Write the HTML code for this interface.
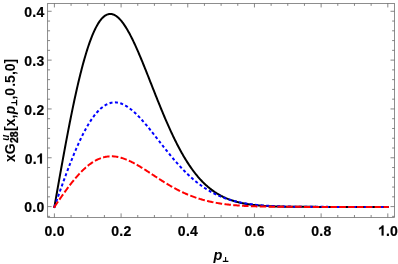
<!DOCTYPE html><html><head><meta charset="utf-8"><style>html,body{margin:0;padding:0;background:#fff}svg{display:block;will-change:transform}text{font-family:"Liberation Sans",sans-serif;font-weight:bold;fill:#000}</style></head><body>
<svg width="398" height="264" viewBox="0 0 398 264">
<rect width="398" height="264" fill="#fff"/>
<path d="M54.40,206.90 L55.07,203.10 L55.73,199.31 L56.40,195.52 L57.07,191.73 L57.73,187.95 L58.40,184.18 L59.07,180.42 L59.73,176.67 L60.40,172.93 L61.07,169.21 L61.73,165.50 L62.40,161.81 L63.07,158.14 L63.74,154.49 L64.40,150.86 L65.07,147.26 L65.74,143.68 L66.40,140.13 L67.07,136.60 L67.74,133.11 L68.40,129.64 L69.07,126.21 L69.74,122.81 L70.40,119.45 L71.07,116.13 L71.74,112.84 L72.40,109.59 L73.07,106.38 L73.74,103.21 L74.40,100.08 L75.07,97.00 L75.74,93.96 L76.40,90.97 L77.07,88.03 L77.74,85.13 L78.40,82.28 L79.07,79.48 L79.74,76.74 L80.41,74.04 L81.07,71.40 L81.74,68.81 L82.41,66.28 L83.07,63.80 L83.74,61.37 L84.41,59.01 L85.07,56.70 L85.74,54.44 L86.41,52.25 L87.07,50.11 L87.74,48.04 L88.41,46.02 L89.07,44.07 L89.74,42.17 L90.41,40.34 L91.07,38.56 L91.74,36.85 L92.41,35.20 L93.07,33.62 L93.74,32.09 L94.41,30.63 L95.07,29.23 L95.74,27.89 L96.41,26.61 L97.08,25.40 L97.74,24.25 L98.41,23.16 L99.08,22.14 L99.74,21.17 L100.41,20.27 L101.08,19.43 L101.74,18.65 L102.41,17.93 L103.08,17.28 L103.74,16.68 L104.41,16.14 L105.08,15.67 L105.74,15.25 L106.41,14.89 L107.08,14.59 L107.74,14.35 L108.41,14.17 L109.08,14.04 L109.74,13.97 L110.41,13.95 L111.08,13.99 L111.74,14.08 L112.41,14.23 L113.08,14.42 L113.75,14.68 L114.41,14.98 L115.08,15.33 L115.75,15.73 L116.41,16.18 L117.08,16.68 L117.75,17.23 L118.41,17.82 L119.08,18.46 L119.75,19.14 L120.41,19.87 L121.08,20.63 L121.75,21.44 L122.41,22.30 L123.08,23.19 L123.75,24.12 L124.41,25.09 L125.08,26.09 L125.75,27.13 L126.41,28.21 L127.08,29.32 L127.75,30.46 L128.41,31.64 L129.08,32.85 L129.75,34.08 L130.42,35.35 L131.08,36.64 L131.75,37.96 L132.42,39.31 L133.08,40.68 L133.75,42.08 L134.42,43.50 L135.08,44.94 L135.75,46.40 L136.42,47.88 L137.08,49.39 L137.75,50.91 L138.42,52.44 L139.08,54.00 L139.75,55.57 L140.42,57.15 L141.08,58.75 L141.75,60.35 L142.42,61.98 L143.08,63.61 L143.75,65.25 L144.42,66.90 L145.08,68.56 L145.75,70.22 L146.42,71.89 L147.09,73.57 L147.75,75.25 L148.42,76.94 L149.09,78.63 L149.75,80.32 L150.42,82.01 L151.09,83.71 L151.75,85.40 L152.42,87.09 L153.09,88.79 L153.75,90.48 L154.42,92.16 L155.09,93.85 L155.75,95.53 L156.42,97.20 L157.09,98.87 L157.75,100.54 L158.42,102.20 L159.09,103.85 L159.75,105.49 L160.42,107.13 L161.09,108.75 L161.75,110.37 L162.42,111.98 L163.09,113.58 L163.76,115.17 L164.42,116.75 L165.09,118.31 L165.76,119.87 L166.42,121.41 L167.09,122.94 L167.76,124.46 L168.42,125.96 L169.09,127.45 L169.76,128.93 L170.42,130.39 L171.09,131.84 L171.76,133.27 L172.42,134.69 L173.09,136.10 L173.76,137.49 L174.42,138.86 L175.09,140.22 L175.76,141.56 L176.42,142.89 L177.09,144.20 L177.76,145.49 L178.42,146.77 L179.09,148.03 L179.76,149.28 L180.43,150.50 L181.09,151.71 L181.76,152.91 L182.43,154.09 L183.09,155.25 L183.76,156.39 L184.43,157.52 L185.09,158.63 L185.76,159.72 L186.43,160.79 L187.09,161.85 L187.76,162.89 L188.43,163.92 L189.09,164.93 L189.76,165.92 L190.43,166.89 L191.09,167.85 L191.76,168.79 L192.43,169.72 L193.09,170.62 L193.76,171.52 L194.43,172.39 L195.09,173.25 L195.76,174.10 L196.43,174.92 L197.10,175.74 L197.76,176.53 L198.43,177.31 L199.10,178.08 L199.76,178.83 L200.43,179.56 L201.10,180.28 L201.76,180.99 L202.43,181.68 L203.10,182.36 L203.76,183.02 L204.43,183.67 L205.10,184.30 L205.76,184.92 L206.43,185.53 L207.10,186.12 L207.76,186.70 L208.43,187.27 L209.10,187.82 L209.76,188.37 L210.43,188.89 L211.10,189.41 L211.76,189.92 L212.43,190.41 L213.10,190.89 L213.77,191.36 L214.43,191.82 L215.10,192.26 L215.77,192.70 L216.43,193.13 L217.10,193.54 L217.77,193.95 L218.43,194.34 L219.10,194.72 L219.77,195.10 L220.43,195.46 L221.10,195.82 L221.77,196.16 L222.43,196.50 L223.10,196.83 L223.77,197.14 L224.43,197.46 L225.10,197.76 L225.77,198.05 L226.43,198.34 L227.10,198.61 L227.77,198.88 L228.43,199.15 L229.10,199.40 L229.77,199.65 L230.44,199.89 L231.10,200.12 L231.77,200.35 L232.44,200.57 L233.10,200.78 L233.77,200.99 L234.44,201.19 L235.10,201.39 L235.77,201.58 L236.44,201.76 L237.10,201.94 L237.77,202.11 L238.44,202.28 L239.10,202.44 L239.77,202.60 L240.44,202.75 L241.10,202.90 L241.77,203.04 L242.44,203.18 L243.10,203.31 L243.77,203.44 L244.44,203.57 L245.10,203.69 L245.77,203.81 L246.44,203.92 L247.11,204.03 L247.77,204.14 L248.44,204.24 L249.11,204.34 L249.77,204.44 L250.44,204.53 L251.11,204.62 L251.77,204.71 L252.44,204.79 L253.11,204.87 L253.77,204.95 L254.44,205.02 L255.11,205.10 L255.77,205.17 L256.44,205.23 L257.11,205.30 L257.77,205.36 L258.44,205.42 L259.11,205.48 L259.77,205.54 L260.44,205.59 L261.11,205.64 L261.77,205.69 L262.44,205.74 L263.11,205.79 L263.78,205.83 L264.44,205.88 L265.11,205.92 L265.78,205.96 L266.44,206.00 L267.11,206.04 L267.78,206.07 L268.44,206.11 L269.11,206.14 L269.78,206.17 L270.44,206.20 L271.11,206.23 L271.78,206.26 L272.44,206.29 L273.11,206.31 L273.78,206.34 L274.44,206.36 L275.11,206.39 L275.78,206.41 L276.44,206.43 L277.11,206.45 L277.78,206.47 L278.44,206.49 L279.11,206.51 L279.78,206.52 L280.45,206.54 L281.11,206.56 L281.78,206.57 L282.45,206.59 L283.11,206.60 L283.78,206.61 L284.45,206.63 L285.11,206.64 L285.78,206.65 L286.45,206.66 L287.11,206.67 L287.78,206.68 L288.45,206.69 L289.11,206.70 L289.78,206.71 L290.45,206.72 L291.11,206.73 L291.78,206.74 L292.45,206.74 L293.11,206.75 L293.78,206.76 L294.45,206.77 L295.11,206.77 L295.78,206.78 L296.45,206.78 L297.12,206.79 L297.78,206.79 L298.45,206.80 L299.12,206.80 L299.78,206.81 L300.45,206.81 L301.12,206.82 L301.78,206.82 L302.45,206.83 L303.12,206.83 L303.78,206.83 L304.45,206.84 L305.12,206.84 L305.78,206.84 L306.45,206.85 L307.12,206.85 L307.78,206.85 L308.45,206.85 L309.12,206.86 L309.78,206.86 L310.45,206.86 L311.12,206.86 L311.78,206.86 L312.45,206.87 L313.12,206.87 L313.79,206.87 L314.45,206.87 L315.12,206.87 L315.79,206.87 L316.45,206.88 L317.12,206.88 L317.79,206.88 L318.45,206.88 L319.12,206.88 L319.79,206.88 L320.45,206.88 L321.12,206.88 L321.79,206.88 L322.45,206.88 L323.12,206.89 L323.79,206.89 L324.45,206.89 L325.12,206.89 L325.79,206.89 L326.45,206.89 L327.12,206.89 L327.79,206.89 L328.45,206.89 L329.12,206.89 L329.79,206.89 L330.46,206.89 L331.12,206.89 L331.79,206.89 L332.46,206.89 L333.12,206.89 L333.79,206.89 L334.46,206.89 L335.12,206.89 L335.79,206.90 L336.46,206.90 L337.12,206.90 L337.79,206.90 L338.46,206.90 L339.12,206.90 L339.79,206.90 L340.46,206.90 L341.12,206.90 L341.79,206.90 L342.46,206.90 L343.12,206.90 L343.79,206.90 L344.46,206.90 L345.12,206.90 L345.79,206.90 L346.46,206.90 L347.13,206.90 L347.79,206.90 L348.46,206.90 L349.13,206.90 L349.79,206.90 L350.46,206.90 L351.13,206.90 L351.79,206.90 L352.46,206.90 L353.13,206.90 L353.79,206.90 L354.46,206.90 L355.13,206.90 L355.79,206.90 L356.46,206.90 L357.13,206.90 L357.79,206.90 L358.46,206.90 L359.13,206.90 L359.79,206.90 L360.46,206.90 L361.13,206.90 L361.79,206.90 L362.46,206.90 L363.13,206.90 L363.80,206.90 L364.46,206.90 L365.13,206.90 L365.80,206.90 L366.46,206.90 L367.13,206.90 L367.80,206.90 L368.46,206.90 L369.13,206.90 L369.80,206.90 L370.46,206.90 L371.13,206.90 L371.80,206.90 L372.46,206.90 L373.13,206.90 L373.80,206.90 L374.46,206.90 L375.13,206.90 L375.80,206.90 L376.46,206.90 L377.13,206.90 L377.80,206.90 L378.46,206.90 L379.13,206.90 L379.80,206.90 L380.47,206.90 L381.13,206.90 L381.80,206.90 L382.47,206.90 L383.13,206.90 L383.80,206.90 L384.47,206.90 L385.13,206.90 L385.80,206.90 L386.47,206.90 L387.13,206.90 L387.80,206.90 L388.80,206.90" fill="none" stroke="#000000" stroke-width="2.0" />
<path d="M54.23,207.88 L54.49,206.41" fill="none" stroke="#000000" stroke-width="2.0"/>
<path d="M54.40,206.90 L55.07,205.01 L55.73,203.11 L56.40,201.22 L57.07,199.33 L57.73,197.44 L58.40,195.56 L59.07,193.68 L59.73,191.80 L60.40,189.94 L61.07,188.07 L61.73,186.22 L62.40,184.37 L63.07,182.53 L63.74,180.69 L64.40,178.87 L65.07,177.06 L65.74,175.26 L66.40,173.46 L67.07,171.69 L67.74,169.92 L68.40,168.17 L69.07,166.43 L69.74,164.70 L70.40,162.99 L71.07,161.30 L71.74,159.62 L72.40,157.96 L73.07,156.31 L73.74,154.69 L74.40,153.08 L75.07,151.49 L75.74,149.92 L76.40,148.37 L77.07,146.84 L77.74,145.33 L78.40,143.84 L79.07,142.37 L79.74,140.93 L80.41,139.51 L81.07,138.11 L81.74,136.73 L82.41,135.38 L83.07,134.05 L83.74,132.75 L84.41,131.47 L85.07,130.22 L85.74,128.99 L86.41,127.79 L87.07,126.61 L87.74,125.46 L88.41,124.34 L89.07,123.24 L89.74,122.17 L90.41,121.13 L91.07,120.11 L91.74,119.12 L92.41,118.16 L93.07,117.23 L93.74,116.33 L94.41,115.45 L95.07,114.60 L95.74,113.78 L96.41,112.99 L97.08,112.23 L97.74,111.50 L98.41,110.79 L99.08,110.12 L99.74,109.47 L100.41,108.85 L101.08,108.26 L101.74,107.70 L102.41,107.17 L103.08,106.67 L103.74,106.19 L104.41,105.74 L105.08,105.33 L105.74,104.94 L106.41,104.57 L107.08,104.24 L107.74,103.93 L108.41,103.65 L109.08,103.40 L109.74,103.18 L110.41,102.98 L111.08,102.81 L111.74,102.67 L112.41,102.55 L113.08,102.46 L113.75,102.40 L114.41,102.36 L115.08,102.35 L115.75,102.39 L116.41,102.45 L117.08,102.53 L117.75,102.64 L118.41,102.78 L119.08,102.93 L119.75,103.12 L120.41,103.32 L121.08,103.55 L121.75,103.80 L122.41,104.07 L123.08,104.37 L123.75,104.68 L124.41,105.02 L125.08,105.38 L125.75,105.76 L126.41,106.15 L127.08,106.57 L127.75,107.01 L128.41,107.46 L129.08,107.93 L129.75,108.42 L130.42,108.93 L131.08,109.45 L131.75,110.00 L132.42,110.55 L133.08,111.13 L133.75,111.71 L134.42,112.32 L135.08,112.93 L135.75,113.56 L136.42,114.21 L137.08,114.86 L137.75,115.53 L138.42,116.21 L139.08,116.91 L139.75,117.61 L140.42,118.33 L141.08,119.05 L141.75,119.79 L142.42,120.53 L143.08,121.29 L143.75,122.05 L144.42,122.82 L145.08,123.60 L145.75,124.39 L146.42,125.18 L147.09,125.98 L147.75,126.79 L148.42,127.60 L149.09,128.42 L149.75,129.24 L150.42,130.07 L151.09,130.90 L151.75,131.73 L152.42,132.57 L153.09,133.41 L153.75,134.26 L154.42,135.10 L155.09,135.95 L155.75,136.80 L156.42,137.65 L157.09,138.51 L157.75,139.36 L158.42,140.21 L159.09,141.07 L159.75,141.92 L160.42,142.77 L161.09,143.63 L161.75,144.48 L162.42,145.33 L163.09,146.17 L163.76,147.02 L164.42,147.86 L165.09,148.70 L165.76,149.54 L166.42,150.37 L167.09,151.21 L167.76,152.03 L168.42,152.86 L169.09,153.68 L169.76,154.49 L170.42,155.30 L171.09,156.11 L171.76,156.91 L172.42,157.71 L173.09,158.50 L173.76,159.29 L174.42,160.07 L175.09,160.84 L175.76,161.61 L176.42,162.38 L177.09,163.13 L177.76,163.88 L178.42,164.63 L179.09,165.37 L179.76,166.10 L180.43,166.82 L181.09,167.54 L181.76,168.25 L182.43,168.95 L183.09,169.65 L183.76,170.34 L184.43,171.02 L185.09,171.69 L185.76,172.36 L186.43,173.02 L187.09,173.67 L187.76,174.31 L188.43,174.95 L189.09,175.58 L189.76,176.20 L190.43,176.81 L191.09,177.41 L191.76,178.01 L192.43,178.60 L193.09,179.18 L193.76,179.75 L194.43,180.32 L195.09,180.88 L195.76,181.42 L196.43,181.97 L197.10,182.50 L197.76,183.02 L198.43,183.54 L199.10,184.05 L199.76,184.55 L200.43,185.05 L201.10,185.53 L201.76,186.01 L202.43,186.48 L203.10,186.94 L203.76,187.40 L204.43,187.84 L205.10,188.28 L205.76,188.72 L206.43,189.14 L207.10,189.56 L207.76,189.97 L208.43,190.37 L209.10,190.76 L209.76,191.15 L210.43,191.53 L211.10,191.91 L211.76,192.27 L212.43,192.63 L213.10,192.99 L213.77,193.33 L214.43,193.67 L215.10,194.00 L215.77,194.33 L216.43,194.65 L217.10,194.96 L217.77,195.27 L218.43,195.57 L219.10,195.86 L219.77,196.15 L220.43,196.43 L221.10,196.71 L221.77,196.98 L222.43,197.24 L223.10,197.50 L223.77,197.75 L224.43,198.00 L225.10,198.24 L225.77,198.48 L226.43,198.71 L227.10,198.94 L227.77,199.16 L228.43,199.37 L229.10,199.58 L229.77,199.79 L230.44,199.99 L231.10,200.19 L231.77,200.38 L232.44,200.57 L233.10,200.75 L233.77,200.93 L234.44,201.10 L235.10,201.27 L235.77,201.43 L236.44,201.59 L237.10,201.75 L237.77,201.90 L238.44,202.05 L239.10,202.20 L239.77,202.34 L240.44,202.48 L241.10,202.61 L241.77,202.74 L242.44,202.87 L243.10,202.99 L243.77,203.12 L244.44,203.23 L245.10,203.35 L245.77,203.46 L246.44,203.57 L247.11,203.67 L247.77,203.77 L248.44,203.87 L249.11,203.97 L249.77,204.06 L250.44,204.16 L251.11,204.24 L251.77,204.33 L252.44,204.41 L253.11,204.50 L253.77,204.57 L254.44,204.65 L255.11,204.73 L255.77,204.80 L256.44,204.87 L257.11,204.94 L257.77,205.00 L258.44,205.07 L259.11,205.13 L259.77,205.19 L260.44,205.25 L261.11,205.30 L261.77,205.36 L262.44,205.41 L263.11,205.46 L263.78,205.51 L264.44,205.56 L265.11,205.61 L265.78,205.65 L266.44,205.70 L267.11,205.74 L267.78,205.78 L268.44,205.82 L269.11,205.86 L269.78,205.90 L270.44,205.93 L271.11,205.97 L271.78,206.00 L272.44,206.04 L273.11,206.07 L273.78,206.10 L274.44,206.13 L275.11,206.16 L275.78,206.18 L276.44,206.21 L277.11,206.24 L277.78,206.26 L278.44,206.29 L279.11,206.31 L279.78,206.33 L280.45,206.35 L281.11,206.37 L281.78,206.39 L282.45,206.41 L283.11,206.43 L283.78,206.45 L284.45,206.47 L285.11,206.48 L285.78,206.50 L286.45,206.52 L287.11,206.53 L287.78,206.55 L288.45,206.56 L289.11,206.57 L289.78,206.59 L290.45,206.60 L291.11,206.61 L291.78,206.62 L292.45,206.63 L293.11,206.64 L293.78,206.65 L294.45,206.66 L295.11,206.67 L295.78,206.68 L296.45,206.69 L297.12,206.70 L297.78,206.71 L298.45,206.72 L299.12,206.72 L299.78,206.73 L300.45,206.74 L301.12,206.75 L301.78,206.75 L302.45,206.76 L303.12,206.76 L303.78,206.77 L304.45,206.78 L305.12,206.78 L305.78,206.79 L306.45,206.79 L307.12,206.80 L307.78,206.80 L308.45,206.80 L309.12,206.81 L309.78,206.81 L310.45,206.82 L311.12,206.82 L311.78,206.82 L312.45,206.83 L313.12,206.83 L313.79,206.83 L314.45,206.84 L315.12,206.84 L315.79,206.84 L316.45,206.84 L317.12,206.85 L317.79,206.85 L318.45,206.85 L319.12,206.85 L319.79,206.86 L320.45,206.86 L321.12,206.86 L321.79,206.86 L322.45,206.86 L323.12,206.87 L323.79,206.87 L324.45,206.87 L325.12,206.87 L325.79,206.87 L326.45,206.87 L327.12,206.87 L327.79,206.87 L328.45,206.88 L329.12,206.88 L329.79,206.88 L330.46,206.88 L331.12,206.88 L331.79,206.88 L332.46,206.88 L333.12,206.88 L333.79,206.88 L334.46,206.88 L335.12,206.89 L335.79,206.89 L336.46,206.89 L337.12,206.89 L337.79,206.89 L338.46,206.89 L339.12,206.89 L339.79,206.89 L340.46,206.89 L341.12,206.89 L341.79,206.89 L342.46,206.89 L343.12,206.89 L343.79,206.89 L344.46,206.89 L345.12,206.89 L345.79,206.89 L346.46,206.89 L347.13,206.89 L347.79,206.89 L348.46,206.89 L349.13,206.89 L349.79,206.90 L350.46,206.90 L351.13,206.90 L351.79,206.90 L352.46,206.90 L353.13,206.90 L353.79,206.90 L354.46,206.90 L355.13,206.90 L355.79,206.90 L356.46,206.90 L357.13,206.90 L357.79,206.90 L358.46,206.90 L359.13,206.90 L359.79,206.90 L360.46,206.90 L361.13,206.90 L361.79,206.90 L362.46,206.90 L363.13,206.90 L363.80,206.90 L364.46,206.90 L365.13,206.90 L365.80,206.90 L366.46,206.90 L367.13,206.90 L367.80,206.90 L368.46,206.90 L369.13,206.90 L369.80,206.90 L370.46,206.90 L371.13,206.90 L371.80,206.90 L372.46,206.90 L373.13,206.90 L373.80,206.90 L374.46,206.90 L375.13,206.90 L375.80,206.90 L376.46,206.90 L377.13,206.90 L377.80,206.90 L378.46,206.90 L379.13,206.90 L379.80,206.90 L380.47,206.90 L381.13,206.90 L381.80,206.90 L382.47,206.90 L383.13,206.90 L383.80,206.90 L384.47,206.90 L385.13,206.90 L385.80,206.90 L386.47,206.90 L387.13,206.90 L387.80,206.90 L388.80,206.90" fill="none" stroke="#0000ff" stroke-width="2.0" stroke-dasharray="3 2.45"/>
<path d="M54.07,207.84 L54.57,206.43" fill="none" stroke="#0000ff" stroke-width="2.0"/>
<path d="M54.40,206.90 L55.07,205.93 L55.73,204.95 L56.40,203.98 L57.07,203.01 L57.73,202.04 L58.40,201.08 L59.07,200.11 L59.73,199.15 L60.40,198.19 L61.07,197.24 L61.73,196.29 L62.40,195.34 L63.07,194.40 L63.74,193.46 L64.40,192.53 L65.07,191.60 L65.74,190.68 L66.40,189.77 L67.07,188.86 L67.74,187.97 L68.40,187.07 L69.07,186.19 L69.74,185.32 L70.40,184.45 L71.07,183.59 L71.74,182.74 L72.40,181.90 L73.07,181.07 L73.74,180.26 L74.40,179.45 L75.07,178.65 L75.74,177.86 L76.40,177.09 L77.07,176.32 L77.74,175.57 L78.40,174.83 L79.07,174.10 L79.74,173.39 L80.41,172.69 L81.07,172.00 L81.74,171.32 L82.41,170.66 L83.07,170.01 L83.74,169.37 L84.41,168.75 L85.07,168.15 L85.74,167.55 L86.41,166.98 L87.07,166.41 L87.74,165.86 L88.41,165.33 L89.07,164.81 L89.74,164.30 L90.41,163.82 L91.07,163.34 L91.74,162.88 L92.41,162.44 L93.07,162.01 L93.74,161.60 L94.41,161.20 L95.07,160.82 L95.74,160.46 L96.41,160.11 L97.08,159.77 L97.74,159.46 L98.41,159.15 L99.08,158.87 L99.74,158.59 L100.41,158.34 L101.08,158.10 L101.74,157.87 L102.41,157.66 L103.08,157.47 L103.74,157.29 L104.41,157.13 L105.08,156.98 L105.74,156.85 L106.41,156.73 L107.08,156.62 L107.74,156.53 L108.41,156.46 L109.08,156.40 L109.74,156.35 L110.41,156.32 L111.08,156.31 L111.74,156.31 L112.41,156.33 L113.08,156.36 L113.75,156.41 L114.41,156.47 L115.08,156.54 L115.75,156.63 L116.41,156.73 L117.08,156.84 L117.75,156.97 L118.41,157.11 L119.08,157.25 L119.75,157.41 L120.41,157.59 L121.08,157.77 L121.75,157.96 L122.41,158.17 L123.08,158.38 L123.75,158.61 L124.41,158.85 L125.08,159.09 L125.75,159.35 L126.41,159.61 L127.08,159.88 L127.75,160.17 L128.41,160.46 L129.08,160.76 L129.75,161.06 L130.42,161.38 L131.08,161.70 L131.75,162.03 L132.42,162.37 L133.08,162.71 L133.75,163.06 L134.42,163.42 L135.08,163.78 L135.75,164.15 L136.42,164.52 L137.08,164.90 L137.75,165.29 L138.42,165.68 L139.08,166.07 L139.75,166.47 L140.42,166.87 L141.08,167.28 L141.75,167.69 L142.42,168.10 L143.08,168.52 L143.75,168.94 L144.42,169.36 L145.08,169.78 L145.75,170.21 L146.42,170.64 L147.09,171.07 L147.75,171.50 L148.42,171.94 L149.09,172.37 L149.75,172.81 L150.42,173.24 L151.09,173.68 L151.75,174.12 L152.42,174.56 L153.09,174.99 L153.75,175.43 L154.42,175.87 L155.09,176.31 L155.75,176.74 L156.42,177.18 L157.09,177.61 L157.75,178.05 L158.42,178.48 L159.09,178.91 L159.75,179.34 L160.42,179.77 L161.09,180.19 L161.75,180.62 L162.42,181.04 L163.09,181.46 L163.76,181.87 L164.42,182.29 L165.09,182.70 L165.76,183.11 L166.42,183.51 L167.09,183.92 L167.76,184.32 L168.42,184.71 L169.09,185.11 L169.76,185.50 L170.42,185.88 L171.09,186.27 L171.76,186.65 L172.42,187.02 L173.09,187.40 L173.76,187.77 L174.42,188.13 L175.09,188.49 L175.76,188.85 L176.42,189.20 L177.09,189.55 L177.76,189.90 L178.42,190.24 L179.09,190.58 L179.76,190.91 L180.43,191.24 L181.09,191.56 L181.76,191.88 L182.43,192.20 L183.09,192.51 L183.76,192.82 L184.43,193.12 L185.09,193.42 L185.76,193.72 L186.43,194.01 L187.09,194.29 L187.76,194.57 L188.43,194.85 L189.09,195.13 L189.76,195.39 L190.43,195.66 L191.09,195.92 L191.76,196.17 L192.43,196.43 L193.09,196.67 L193.76,196.92 L194.43,197.16 L195.09,197.39 L195.76,197.62 L196.43,197.85 L197.10,198.07 L197.76,198.29 L198.43,198.50 L199.10,198.71 L199.76,198.92 L200.43,199.12 L201.10,199.32 L201.76,199.51 L202.43,199.70 L203.10,199.89 L203.76,200.07 L204.43,200.25 L205.10,200.43 L205.76,200.60 L206.43,200.77 L207.10,200.93 L207.76,201.09 L208.43,201.25 L209.10,201.41 L209.76,201.56 L210.43,201.71 L211.10,201.85 L211.76,201.99 L212.43,202.13 L213.10,202.26 L213.77,202.40 L214.43,202.52 L215.10,202.65 L215.77,202.77 L216.43,202.89 L217.10,203.01 L217.77,203.12 L218.43,203.23 L219.10,203.34 L219.77,203.45 L220.43,203.55 L221.10,203.65 L221.77,203.75 L222.43,203.85 L223.10,203.94 L223.77,204.03 L224.43,204.12 L225.10,204.20 L225.77,204.29 L226.43,204.37 L227.10,204.45 L227.77,204.53 L228.43,204.60 L229.10,204.68 L229.77,204.75 L230.44,204.82 L231.10,204.88 L231.77,204.95 L232.44,205.01 L233.10,205.07 L233.77,205.13 L234.44,205.19 L235.10,205.25 L235.77,205.30 L236.44,205.36 L237.10,205.41 L237.77,205.46 L238.44,205.51 L239.10,205.56 L239.77,205.60 L240.44,205.65 L241.10,205.69 L241.77,205.73 L242.44,205.77 L243.10,205.81 L243.77,205.85 L244.44,205.89 L245.10,205.92 L245.77,205.96 L246.44,205.99 L247.11,206.02 L247.77,206.06 L248.44,206.09 L249.11,206.12 L249.77,206.14 L250.44,206.17 L251.11,206.20 L251.77,206.22 L252.44,206.25 L253.11,206.27 L253.77,206.30 L254.44,206.32 L255.11,206.34 L255.77,206.36 L256.44,206.38 L257.11,206.40 L257.77,206.42 L258.44,206.44 L259.11,206.46 L259.77,206.47 L260.44,206.49 L261.11,206.51 L261.77,206.52 L262.44,206.54 L263.11,206.55 L263.78,206.56 L264.44,206.58 L265.11,206.59 L265.78,206.60 L266.44,206.61 L267.11,206.63 L267.78,206.64 L268.44,206.65 L269.11,206.66 L269.78,206.67 L270.44,206.68 L271.11,206.69 L271.78,206.70 L272.44,206.70 L273.11,206.71 L273.78,206.72 L274.44,206.73 L275.11,206.73 L275.78,206.74 L276.44,206.75 L277.11,206.75 L277.78,206.76 L278.44,206.77 L279.11,206.77 L279.78,206.78 L280.45,206.78 L281.11,206.79 L281.78,206.79 L282.45,206.80 L283.11,206.80 L283.78,206.81 L284.45,206.81 L285.11,206.81 L285.78,206.82 L286.45,206.82 L287.11,206.83 L287.78,206.83 L288.45,206.83 L289.11,206.83 L289.78,206.84 L290.45,206.84 L291.11,206.84 L291.78,206.85 L292.45,206.85 L293.11,206.85 L293.78,206.85 L294.45,206.85 L295.11,206.86 L295.78,206.86 L296.45,206.86 L297.12,206.86 L297.78,206.86 L298.45,206.87 L299.12,206.87 L299.78,206.87 L300.45,206.87 L301.12,206.87 L301.78,206.87 L302.45,206.87 L303.12,206.88 L303.78,206.88 L304.45,206.88 L305.12,206.88 L305.78,206.88 L306.45,206.88 L307.12,206.88 L307.78,206.88 L308.45,206.88 L309.12,206.88 L309.78,206.89 L310.45,206.89 L311.12,206.89 L311.78,206.89 L312.45,206.89 L313.12,206.89 L313.79,206.89 L314.45,206.89 L315.12,206.89 L315.79,206.89 L316.45,206.89 L317.12,206.89 L317.79,206.89 L318.45,206.89 L319.12,206.89 L319.79,206.89 L320.45,206.89 L321.12,206.89 L321.79,206.89 L322.45,206.89 L323.12,206.89 L323.79,206.90 L324.45,206.90 L325.12,206.90 L325.79,206.90 L326.45,206.90 L327.12,206.90 L327.79,206.90 L328.45,206.90 L329.12,206.90 L329.79,206.90 L330.46,206.90 L331.12,206.90 L331.79,206.90 L332.46,206.90 L333.12,206.90 L333.79,206.90 L334.46,206.90 L335.12,206.90 L335.79,206.90 L336.46,206.90 L337.12,206.90 L337.79,206.90 L338.46,206.90 L339.12,206.90 L339.79,206.90 L340.46,206.90 L341.12,206.90 L341.79,206.90 L342.46,206.90 L343.12,206.90 L343.79,206.90 L344.46,206.90 L345.12,206.90 L345.79,206.90 L346.46,206.90 L347.13,206.90 L347.79,206.90 L348.46,206.90 L349.13,206.90 L349.79,206.90 L350.46,206.90 L351.13,206.90 L351.79,206.90 L352.46,206.90 L353.13,206.90 L353.79,206.90 L354.46,206.90 L355.13,206.90 L355.79,206.90 L356.46,206.90 L357.13,206.90 L357.79,206.90 L358.46,206.90 L359.13,206.90 L359.79,206.90 L360.46,206.90 L361.13,206.90 L361.79,206.90 L362.46,206.90 L363.13,206.90 L363.80,206.90 L364.46,206.90 L365.13,206.90 L365.80,206.90 L366.46,206.90 L367.13,206.90 L367.80,206.90 L368.46,206.90 L369.13,206.90 L369.80,206.90 L370.46,206.90 L371.13,206.90 L371.80,206.90 L372.46,206.90 L373.13,206.90 L373.80,206.90 L374.46,206.90 L375.13,206.90 L375.80,206.90 L376.46,206.90 L377.13,206.90 L377.80,206.90 L378.46,206.90 L379.13,206.90 L379.80,206.90 L380.47,206.90 L381.13,206.90 L381.80,206.90 L382.47,206.90 L383.13,206.90 L383.80,206.90 L384.47,206.90 L385.13,206.90 L385.80,206.90 L386.47,206.90 L387.13,206.90 L387.80,206.90 L388.80,206.90" fill="none" stroke="#ff0000" stroke-width="2.0" stroke-dasharray="6.5 2.34"/>
<path d="M53.83,207.72 L54.68,206.49" fill="none" stroke="#ff0000" stroke-width="2.0"/>
<rect x="47.65" y="3.45" width="346.85" height="213.95" fill="none" stroke="#686868" stroke-width="0.75"/>
<path d="M54.40,217.40 v-4.00 M54.40,3.45 v4.00 M71.07,217.40 v-2.40 M71.07,3.45 v2.40 M87.74,217.40 v-2.40 M87.74,3.45 v2.40 M104.41,217.40 v-2.40 M104.41,3.45 v2.40 M121.08,217.40 v-4.00 M121.08,3.45 v4.00 M137.75,217.40 v-2.40 M137.75,3.45 v2.40 M154.42,217.40 v-2.40 M154.42,3.45 v2.40 M171.09,217.40 v-2.40 M171.09,3.45 v2.40 M187.76,217.40 v-4.00 M187.76,3.45 v4.00 M204.43,217.40 v-2.40 M204.43,3.45 v2.40 M221.10,217.40 v-2.40 M221.10,3.45 v2.40 M237.77,217.40 v-2.40 M237.77,3.45 v2.40 M254.44,217.40 v-4.00 M254.44,3.45 v4.00 M271.11,217.40 v-2.40 M271.11,3.45 v2.40 M287.78,217.40 v-2.40 M287.78,3.45 v2.40 M304.45,217.40 v-2.40 M304.45,3.45 v2.40 M321.12,217.40 v-4.00 M321.12,3.45 v4.00 M337.79,217.40 v-2.40 M337.79,3.45 v2.40 M354.46,217.40 v-2.40 M354.46,3.45 v2.40 M371.13,217.40 v-2.40 M371.13,3.45 v2.40 M387.80,217.40 v-4.00 M387.80,3.45 v4.00 M47.65,216.37 h2.40 M394.50,216.37 h-2.40 M47.65,206.60 h4.00 M394.50,206.60 h-4.00 M47.65,196.83 h2.40 M394.50,196.83 h-2.40 M47.65,187.07 h2.40 M394.50,187.07 h-2.40 M47.65,177.30 h2.40 M394.50,177.30 h-2.40 M47.65,167.54 h2.40 M394.50,167.54 h-2.40 M47.65,157.77 h4.00 M394.50,157.77 h-4.00 M47.65,148.00 h2.40 M394.50,148.00 h-2.40 M47.65,138.24 h2.40 M394.50,138.24 h-2.40 M47.65,128.47 h2.40 M394.50,128.47 h-2.40 M47.65,118.71 h2.40 M394.50,118.71 h-2.40 M47.65,108.94 h4.00 M394.50,108.94 h-4.00 M47.65,99.17 h2.40 M394.50,99.17 h-2.40 M47.65,89.41 h2.40 M394.50,89.41 h-2.40 M47.65,79.64 h2.40 M394.50,79.64 h-2.40 M47.65,69.88 h2.40 M394.50,69.88 h-2.40 M47.65,60.11 h4.00 M394.50,60.11 h-4.00 M47.65,50.34 h2.40 M394.50,50.34 h-2.40 M47.65,40.58 h2.40 M394.50,40.58 h-2.40 M47.65,30.81 h2.40 M394.50,30.81 h-2.40 M47.65,21.05 h2.40 M394.50,21.05 h-2.40 M47.65,11.28 h4.00 M394.50,11.28 h-4.00" fill="none" stroke="#686868" stroke-width="0.8"/>
<text x="54.65" y="235.50" font-size="14" stroke="#000" stroke-width="0.2" letter-spacing="0.3" text-anchor="middle">0.0</text>
<text x="121.33" y="235.50" font-size="14" stroke="#000" stroke-width="0.2" letter-spacing="0.3" text-anchor="middle">0.2</text>
<text x="188.01" y="235.50" font-size="14" stroke="#000" stroke-width="0.2" letter-spacing="0.3" text-anchor="middle">0.4</text>
<text x="254.69" y="235.50" font-size="14" stroke="#000" stroke-width="0.2" letter-spacing="0.3" text-anchor="middle">0.6</text>
<text x="321.37" y="235.50" font-size="14" stroke="#000" stroke-width="0.2" letter-spacing="0.3" text-anchor="middle">0.8</text>
<path transform="translate(378.05,235.50) scale(0.00684,-0.00684)" d="M806,0H525V1059Q371,915 162,846V1101Q272,1137 401,1237.5Q530,1338 578,1472H806Z" fill="#000" stroke="#000" stroke-width="29.3"/>
<text x="385.94" y="235.50" font-size="14" stroke="#000" stroke-width="0.2" letter-spacing="0.1">.0</text>
<text x="44.50" y="212.40" font-size="14" stroke="#000" stroke-width="0.2" letter-spacing="0.3" text-anchor="end">0.0</text>
<text x="37.01" y="163.57" font-size="14" stroke="#000" stroke-width="0.2" letter-spacing="0.3" text-anchor="end">0.</text>
<path transform="translate(36.41,163.57) scale(0.00684,-0.00684)" d="M806,0H525V1059Q371,915 162,846V1101Q272,1137 401,1237.5Q530,1338 578,1472H806Z" fill="#000" stroke="#000" stroke-width="29.3"/>
<text x="44.50" y="114.74" font-size="14" stroke="#000" stroke-width="0.2" letter-spacing="0.3" text-anchor="end">0.2</text>
<text x="44.50" y="65.91" font-size="14" stroke="#000" stroke-width="0.2" letter-spacing="0.3" text-anchor="end">0.3</text>
<text x="44.50" y="17.08" font-size="14" stroke="#000" stroke-width="0.2" letter-spacing="0.3" text-anchor="end">0.4</text>
<text x="213.5" y="259.7" font-size="14.5" font-style="italic">p</text>
<path d="M222.8,261.4 h5.6 M225.6,261.4 v-4.4" stroke="#000" stroke-width="1.1" fill="none"/>
<text transform="translate(14.80,162.10) rotate(-90)" font-size="14" >xG</text>
<text transform="translate(17.90,143.10) rotate(-90)" font-size="10.5" font-weight="normal" stroke="#000" stroke-width="0.3">28</text>
<text transform="translate(8.90,140.70) rotate(-90)" font-size="10" font-style="italic">u</text>
<text transform="translate(14.80,131.00) rotate(-90)" font-size="14" >[x,</text>
<text transform="translate(14.80,114.20) rotate(-90)" font-size="14" font-style="italic">p</text>
<path d="M16.6,99.75 V105.6 M16.6,102.7 H11.25" stroke="#000" stroke-width="1.25" fill="none"/>
<text transform="translate(14.80,99.60) rotate(-90)" font-size="14" >,0</text>
<text transform="translate(14.80,86.80) rotate(-90)" font-size="14" >.5,0]</text>
</svg></body></html>
